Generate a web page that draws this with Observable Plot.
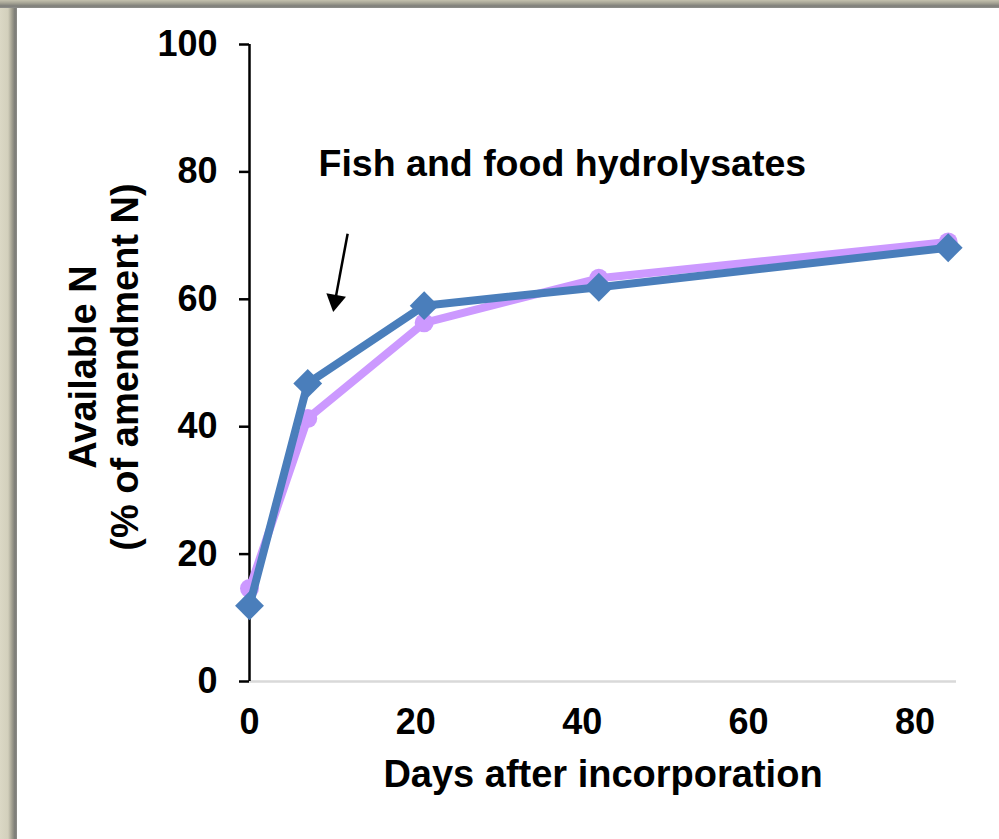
<!DOCTYPE html>
<html><head><meta charset="utf-8">
<script src="https://cdn.jsdelivr.net/npm/d3@7"></script>
<script src="https://cdn.jsdelivr.net/npm/@observablehq/plot@0.6"></script>
<style>
html,body{margin:0;padding:0;}
body{width:999px;height:839px;overflow:hidden;position:relative;background:#fff;font-family:"Liberation Sans",Arial,sans-serif;}
#left{position:absolute;left:0;top:0;width:17px;height:839px;background:linear-gradient(to right,#dbd8c5 0,#d3d0bc 8px,#a09e8f 12px,#7b7b76 15px,#8d8d89 17px);}
#top{position:absolute;left:0;top:0;width:999px;height:8px;background:linear-gradient(to bottom,#c4c1ae 0,#a6a495 3px,#7e7e79 6px,#8f8f8b 8px);}
#frame{position:absolute;left:17px;top:8px;width:982px;height:831px;background:#fff;}
</style>
</head><body>
<div id="left"></div><div id="top"></div>
<div id="frame"></div>
<script>
const days = [0, 7, 21, 42, 84];
const hydrolysateA = [14.6, 41.3, 56.3, 63.3, 69.0];   // purple circles
const hydrolysateB = [11.9, 46.8, 59.0, 61.9, 68.1];   // blue diamonds
const yTicks = [0, 20, 40, 60, 80, 100];
const xTicks = [0, 20, 40, 60, 80];
const annotationText = ["Fish and food hydrolysates"];
const annotationTextPos = [{x: 8.3, y: 81.3}];
const arrowLine = [{x1: 11.8, y1: 70.3, x2: 10.3, y2: 59.8}];
const arrowHead = [{x: 10.3, y: 59.8}];

const purple = "#cc99ff", blue = "#4a7ebb";
const A = days.map((d, i) => ({day: d, v: hydrolysateA[i]}));
const B = days.map((d, i) => ({day: d, v: hydrolysateB[i]}));
const F = "'Liberation Sans', Arial, sans-serif";

const chart = Plot.plot({
  width: 982, height: 831,
  marginLeft: 232, marginRight: 43, marginTop: 36, marginBottom: 158,
  style: {fontFamily: F, fontWeight: "bold", fontSize: "36px", color: "#000", background: "transparent"},
  x: {domain: [0, 85]},
  y: {domain: [0, 100]},
  marks: [
    Plot.ruleY([0], {stroke: "#d9d9d9", strokeWidth: 2.5}),
    Plot.axisX({ticks: xTicks, tickSize: 0, tickPadding: 27, label: null, fontSize: 36, fontWeight: "bold"}),
    Plot.text(["Days after incorporation"], {frameAnchor: "bottom", dy: 105, fontSize: 38, fontWeight: "bold", fill: "#000"}),
    Plot.axisY({ticks: yTicks, tickSize: 10, tickPadding: 22, strokeWidth: 2.5, label: null, fontSize: 36, fontWeight: "bold", stroke: "#000"}),
    Plot.ruleX([0], {y1: 0, y2: 100, stroke: "#000", strokeWidth: 2.5}),
    Plot.text(["Available N\n(% of amendment N)"], {frameAnchor: "left", textAnchor: "middle", dx: -146, dy: 4, rotate: -90, lineHeight: 1.1, fontSize: 38, fontWeight: "bold", fill: "#000"}),
    Plot.line(A, {x: "day", y: "v", stroke: purple, strokeWidth: 8}),
    Plot.dot(A, {x: "day", y: "v", fill: purple, r: 9.5}),
    Plot.line(B, {x: "day", y: "v", stroke: blue, strokeWidth: 8}),
    Plot.dot(B, {x: "day", y: "v", fill: blue, symbol: "diamond2", r: 13}),
    Plot.text(annotationText, {x: annotationTextPos.map(d => d.x), y: annotationTextPos.map(d => d.y), textAnchor: "start", fontSize: 37.5, fontWeight: "bold", fill: "#000"}),
    Plot.link(arrowLine, {x1: "x1", y1: "y1", x2: "x2", y2: "y2", stroke: "#000", strokeWidth: 2.5}),
    Plot.dot(arrowHead, {x: "x", y: "y", symbol: "triangle", r: 7.4, fill: "#000", rotate: 190})
  ]
});
chart.style.position = "absolute";
chart.style.left = "17px";
chart.style.top = "8px";
document.body.appendChild(chart);
</script>
</body></html>
